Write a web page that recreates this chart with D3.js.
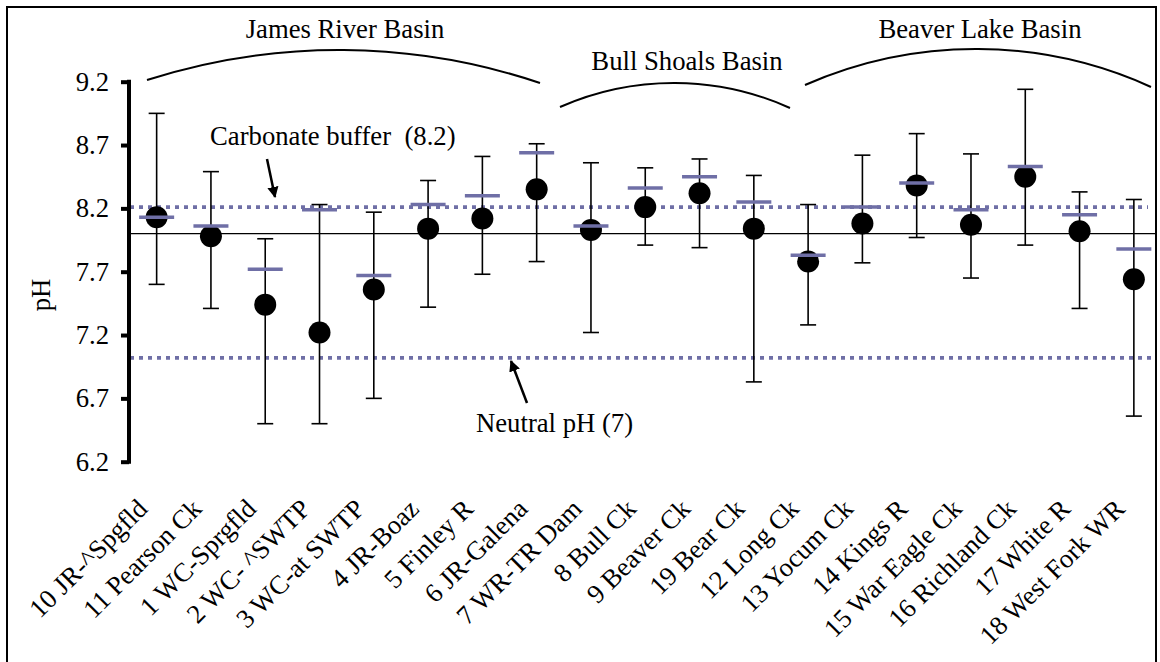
<!DOCTYPE html>
<html>
<head>
<meta charset="utf-8">
<script src="https://cdn.jsdelivr.net/npm/d3@7"></script>
<style>
  html, body { margin: 0; padding: 0; background: #fff; }
  svg { display: block; }
  text { font-family: "Liberation Serif", "Times New Roman", serif; fill: #000; }
</style>
</head>
<body>
<svg id="chart" width="1160" height="662"></svg>
<script>
// ---- data ----
const categories = ["10 JR-^Spgfld", "11 Pearson Ck", "1 WC-Sprgfld", "2 WC- ^SWTP", "3 WC-at SWTP",
  "4 JR-Boaz", "5 Finley R", "6 JR-Galena", "7 WR-TR Dam", "8 Bull Ck", "9 Beaver Ck", "19 Bear Ck",
  "12 Long Ck", "13 Yocum Ck", "14 Kings R", "15 War Eagle Ck", "16 Richland Ck", "17 White R", "18 West Fork WR"];
const meanPH   = [8.13, 7.98, 7.44, 7.22, 7.56, 8.04, 8.12, 8.35, 8.03, 8.21, 8.32, 8.04, 7.78, 8.08, 8.38, 8.07, 8.45, 8.02, 7.64];
const medianPH = [8.13, 8.06, 7.72, 8.19, 7.67, 8.23, 8.30, 8.64, 8.06, 8.36, 8.45, 8.25, 7.83, 8.21, 8.40, 8.19, 8.53, 8.15, 7.88];
const maxPH    = [8.95, 8.49, 7.96, 8.23, 8.17, 8.42, 8.61, 8.71, 8.56, 8.52, 8.59, 8.46, 8.23, 8.62, 8.79, 8.63, 9.14, 8.33, 8.27];
const minPH    = [7.60, 7.41, 6.50, 6.50, 6.70, 7.42, 7.68, 7.78, 7.22, 7.91, 7.89, 6.83, 7.28, 7.77, 7.97, 7.65, 7.91, 7.41, 6.56];
const yTicks = [6.2, 6.7, 7.2, 7.7, 8.2, 8.7, 9.2];
const referenceLine = 8.0;
const carbonateBuffer = 8.21;
const neutralPH = 7.02;
const basinNames = ["James River Basin", "Bull Shoals Basin", "Beaver Lake Basin"];

// ---- layout ----
const svg = d3.select("#chart");
const FONT = 26.7;
const purple = "#6F6FA6";

const x = d3.scaleBand().domain(categories).range([129.5, 1161]).padding(0);
const y = d3.scaleLinear().domain([6.2, 9.2]).range([461.7, 81.7]);
const cx = c => x(c) + x.bandwidth() / 2;

const rows = categories.map((c, i) => ({ c, mean: meanPH[i], med: medianPH[i], max: maxPH[i], min: minPH[i] }));

// frame
svg.append("rect").attr("x", 7).attr("y", 7).attr("width", 1149).attr("height", 700)
  .attr("fill", "none").attr("stroke", "#000").attr("stroke-width", 2);

// reference lines
svg.append("line").attr("x1", 128).attr("x2", 1156).attr("y1", y(referenceLine)).attr("y2", y(referenceLine))
  .attr("stroke", "#000").attr("stroke-width", 1.2);
svg.append("line").attr("x1", 130).attr("x2", 1148).attr("y1", y(carbonateBuffer)).attr("y2", y(carbonateBuffer))
  .attr("stroke", purple).attr("stroke-width", 3.8).attr("stroke-dasharray", "4,5");
svg.append("line").attr("x1", 130).attr("x2", 1156).attr("y1", y(neutralPH)).attr("y2", y(neutralPH))
  .attr("stroke", purple).attr("stroke-width", 3.8).attr("stroke-dasharray", "4,5");

// y axis
const yAxis = d3.axisLeft(y).tickValues(yTicks).tickFormat(d3.format(".1f")).tickSize(8).tickPadding(12);
const gy = svg.append("g").attr("transform", "translate(129,0)").call(yAxis);
gy.select(".domain").attr("stroke", "#000").attr("stroke-width", 4).attr("d", `M0,${y(9.2) - 2}V${y(6.2) + 2}`);
gy.selectAll(".tick line").attr("stroke", "#000").attr("stroke-width", 4);
gy.selectAll(".tick text").style("font-size", FONT + "px").style("font-family", '"Liberation Serif", serif').attr("fill", "#000");

// y title
svg.append("text").attr("transform", "translate(50,295) rotate(-90)").attr("text-anchor", "middle")
  .style("font-size", FONT + "px").text("pH");

// error bars
const g = svg.append("g");
const capW = 16;
g.selectAll(".whisker").data(rows).join("line")
  .attr("x1", d => cx(d.c)).attr("x2", d => cx(d.c)).attr("y1", d => y(d.max)).attr("y2", d => y(d.min))
  .attr("stroke", "#000").attr("stroke-width", 1.6);
g.selectAll(".capTop").data(rows).join("line")
  .attr("x1", d => cx(d.c) - capW / 2).attr("x2", d => cx(d.c) + capW / 2)
  .attr("y1", d => y(d.max)).attr("y2", d => y(d.max)).attr("stroke", "#000").attr("stroke-width", 1.6);
g.selectAll(".capBot").data(rows).join("line")
  .attr("x1", d => cx(d.c) - capW / 2).attr("x2", d => cx(d.c) + capW / 2)
  .attr("y1", d => y(d.min)).attr("y2", d => y(d.min)).attr("stroke", "#000").attr("stroke-width", 1.6);
// mean dots
g.selectAll(".dot").data(rows).join("circle")
  .attr("cx", d => cx(d.c)).attr("cy", d => y(d.mean)).attr("r", 11).attr("fill", "#000");
// median dashes
g.selectAll(".med").data(rows).join("line")
  .attr("x1", d => cx(d.c) - 17.5).attr("x2", d => cx(d.c) + 17.5)
  .attr("y1", d => y(d.med)).attr("y2", d => y(d.med)).attr("stroke", purple).attr("stroke-width", 3.5);

// category labels
svg.append("g").selectAll("text").data(categories).join("text")
  .attr("transform", d => `translate(${cx(d) - 14},${504}) rotate(-45)`)
  .attr("text-anchor", "end").attr("dominant-baseline", "central")
  .style("font-size", FONT + "px").text(d => d);

// basin arcs
const arcs = [
  { x0: 147, y0: 80, x1: 540, y1: 83, r: 629, tx: 345, ty: 38 },
  { x0: 560, y0: 107, x1: 790, y1: 108, r: 282, tx: 687, ty: 70 },
  { x0: 805, y0: 85, x1: 1151, y1: 87, r: 423, tx: 980, ty: 38 }
];
arcs.forEach((a, i) => {
  svg.append("path").attr("d", `M${a.x0},${a.y0} A${a.r},${a.r} 0 0 1 ${a.x1},${a.y1}`)
    .attr("fill", "none").attr("stroke", "#000").attr("stroke-width", 2);
  svg.append("text").attr("x", a.tx).attr("y", a.ty).attr("text-anchor", "middle")
    .style("font-size", FONT + "px").text(basinNames[i]);
});

// annotations
const defs = svg.append("defs");
defs.append("marker").attr("id", "ah").attr("viewBox", "0 0 10 10").attr("refX", 9).attr("refY", 5)
  .attr("markerWidth", 4.5).attr("markerHeight", 4.5).attr("orient", "auto")
  .append("path").attr("d", "M0,0L10,5L0,10z").attr("fill", "#000");

svg.append("text").attr("x", 210).attr("y", 145).style("font-size", FONT + "px")
  .attr("xml:space", "preserve").style("white-space", "pre").text("Carbonate buffer  (" + d3.format(".1f")(8.2) + ")");
svg.append("line").attr("x1", 267).attr("y1", 159).attr("x2", 275).attr("y2", 197)
  .attr("stroke", "#000").attr("stroke-width", 2.5).attr("marker-end", "url(#ah)");

svg.append("text").attr("x", 476).attr("y", 432).style("font-size", FONT + "px").text("Neutral pH (7)");
svg.append("line").attr("x1", 527).attr("y1", 403).attr("x2", 511).attr("y2", 361)
  .attr("stroke", "#000").attr("stroke-width", 2.5).attr("marker-end", "url(#ah)");
</script>
</body>
</html>
